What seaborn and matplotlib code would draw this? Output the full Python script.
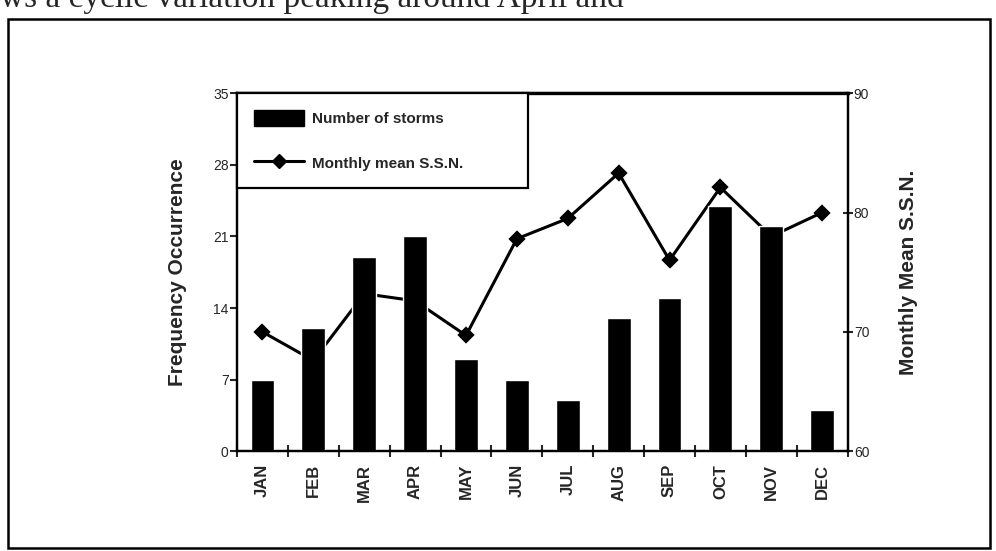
import numpy as np
import pandas as pd
import seaborn as sns
import matplotlib.pyplot as plt
from matplotlib.patches import Patch, Rectangle
from matplotlib.lines import Line2D

# values
months = ['JAN', 'FEB', 'MAR', 'APR', 'MAY', 'JUN', 'JUL', 'AUG', 'SEP', 'OCT', 'NOV', 'DEC']
storms = [7, 12, 19, 21, 9, 7, 5, 13, 15, 24, 22, 4]
ssn = [70.0, 67.6, 73.2, 72.6, 69.7, 77.8, 79.5, 83.3, 76.0, 82.1, 78.0, 80.0]
left_ticks = [0, 7, 14, 21, 28, 35]
right_ticks = [60, 70, 80, 90]

df = pd.DataFrame({'month': months, 'storms': storms, 'ssn': ssn})

sns.set_style('white')
plt.rcParams['font.family'] = ['Liberation Sans']

fig = plt.figure(figsize=(9.96, 5.51), dpi=100)
ax = fig.add_axes([0.238, 0.181, 0.613, 0.650])
ax2 = ax.twinx()

# bars sit on top of the line in the original
ax.set_zorder(ax2.get_zorder() + 1)
ax.patch.set_visible(False)

sns.barplot(data=df, x='month', y='storms', color='black', saturation=1,
            width=0.47, ax=ax)
sns.pointplot(data=df, x='month', y='ssn', color='black', markers='D',
              markersize=7, linewidth=2.2, ax=ax2)

ax.set_xlim(-0.5, 11.5)
ax.set_ylim(0, 35)
ax2.set_ylim(60, 90)
ax.set_yticks(left_ticks)
ax.set_yticklabels([str(t) for t in left_ticks], fontsize=10)
ax2.set_yticks(right_ticks)
ax2.set_yticklabels([str(t) for t in right_ticks], fontsize=10)

ax.set_xticks(range(12))
ax.set_xticklabels(months, rotation=90, fontsize=12, fontweight='bold')
ax.set_xticks(np.arange(-0.5, 11.6, 1), minor=True)
ax.tick_params(axis='x', which='major', length=0, pad=9)
ax.tick_params(axis='x', which='minor', direction='inout', length=8, width=1.5, bottom=True)
ax.tick_params(axis='y', direction='out', length=5, width=1.5, pad=1, left=True)
ax2.tick_params(axis='y', direction='inout', length=7, width=1.5, pad=1, right=True)
ax2.tick_params(axis='x', length=0)

ax.set_xlabel('')
ax.set_ylabel('Frequency Occurrence', fontsize=15, fontweight='bold', labelpad=19)
ax2.set_ylabel('Monthly Mean S.S.N.', fontsize=15, fontweight='bold', labelpad=21)
ax2.grid(False)
ax.grid(False)

for a in (ax, ax2):
    for s in a.spines.values():
        s.set_color('black')
        s.set_linewidth(1.6)
ax.spines['top'].set_linewidth(2.4)

handles = [Patch(facecolor='black', edgecolor='black'),
           Line2D([], [], color='black', lw=2.2, marker='D', markersize=7)]
leg = ax.legend(handles, ['Number of storms', 'Monthly mean S.S.N.'],
                loc='upper left', bbox_to_anchor=(0, 1, 0.476, 0), mode='expand',
                borderaxespad=0, fancybox=False, frameon=True, framealpha=1,
                edgecolor='black', handlelength=3.3, handleheight=1.2,
                handletextpad=0.5, labelspacing=1.9, borderpad=1.1,
                prop={'weight': 'bold', 'size': 11})
leg.get_frame().set_linewidth(1.6)

# page frame around the chart and the cut-off line of text above it
fig.add_artist(Rectangle((8 / 996, 3 / 551), 982 / 996, 529 / 551,
                         transform=fig.transFigure, fill=False,
                         edgecolor='black', linewidth=1.8))
fig.text(0.0, 1 - 7 / 551, 'ws a cyclic variation peaking around April and',
         family='Liberation Serif', fontsize=24, va='baseline', ha='left')

fig.savefig('out.png', dpi=100, facecolor='white')
